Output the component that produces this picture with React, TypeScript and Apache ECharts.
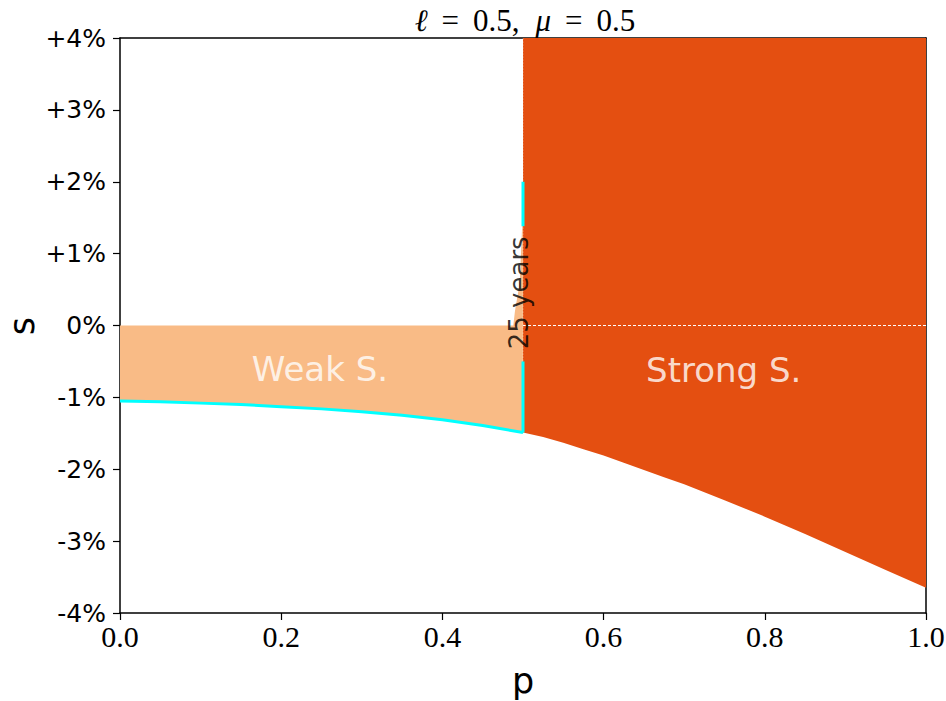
import React, { useEffect, useRef } from "react";
import * as echarts from "echarts";

// Lower boundary of the weak-sustainability region (p, s in %)
const weakP = [0, 0.05, 0.1, 0.15, 0.2, 0.25, 0.3, 0.35, 0.4, 0.45, 0.5];
const weakS = [-1.05, -1.06, -1.08, -1.1, -1.13, -1.16, -1.2, -1.25, -1.31, -1.39, -1.49];
// Small sliver of weak region above 0 near p = 0.5
const wedgeP = [0.488, 0.49, 0.496, 0.499, 0.5];
const wedgeS = [0, 0.2, 0.6, 1.4, 1.4];
// Lower boundary of the strong-sustainability region
const strongP = [0.5, 0.525, 0.55, 0.575, 0.6, 0.625, 0.65, 0.675, 0.7, 0.725, 0.75, 0.8, 0.85, 0.9, 0.95, 1.0];
const strongS = [-1.49, -1.55, -1.63, -1.72, -1.81, -1.91, -2.01, -2.11, -2.21, -2.32, -2.43, -2.66, -2.9, -3.15, -3.4, -3.65];
// Cyan vertical segments at p = 0.5
const cyanLowP = [0.5, 0.5];
const cyanLowS = [-1.49, -0.5];
const cyanUpP = [0.5, 0.5];
const cyanUpS = [1.38, 2.0];

const STRONG = "#E44F11";
const WEAK = "#F9BB86";
const CYAN = "#00FFFF";

const zip = (a: number[], b: number[]) => a.map((v, i) => [v, b[i]]);

function polySeries(pts: number[][], color: string, z: number) {
  return {
    type: "custom",
    data: pts,
    z,
    silent: true,
    encode: { x: 0, y: 1 },
    renderItem: (params: any, api: any) => {
      if (params.dataIndex !== 0) return null;
      const points = pts.map((p) => api.coord(p));
      return { type: "polygon", shape: { points }, style: { fill: color } };
    },
  };
}

export default function App() {
  const ref = useRef<HTMLDivElement>(null);
  useEffect(() => {
    if (!ref.current) return;
    const chart = echarts.init(ref.current, undefined, { renderer: "svg" });

    const weakBoundary = zip(weakP, weakS);
    const strongBoundary = zip(strongP, strongS);
    const weakPoly = [
      [0, 0],
      ...zip(wedgeP, wedgeS),
      ...weakBoundary.slice().reverse(),
    ];
    const strongPoly = [
      [0.5, 4],
      [1, 4],
      ...strongBoundary.slice().reverse(),
    ];

    const sans = "DejaVu Sans";
    const serif = "Liberation Serif";

    chart.setOption({
      animation: false,
      backgroundColor: "#fff",
      title: {
        text: "{i|ℓ}{e|=}0.5,{sp|}{i|μ}{e|=}0.5",
        left: 520,
        top: 0,
        textAlign: "center",
        textStyle: {
          fontFamily: serif,
          fontSize: 31,
          fontWeight: "normal",
          color: "#000",
          rich: {
            i: { fontFamily: serif, fontStyle: "italic", fontSize: 31, color: "#000" },
            e: { fontFamily: serif, fontSize: 31, color: "#000", padding: [0, 14, 0, 14] },
            sp: { width: 16 },
          },
        },
      },
      graphic: [
        {
          type: "text",
          x: 22,
          y: 326,
          rotation: Math.PI / 2,
          silent: true,
          style: {
            text: "s",
            fontFamily: sans,
            fontSize: 35,
            fill: "#000",
            align: "center",
            verticalAlign: "middle",
          },
        },
      ],
      grid: { left: 120, right: 20, top: 38, bottom: 88, containLabel: false, outerBoundsMode: "none" },
      xAxis: [
        {
          type: "value",
          min: 0,
          max: 1,
          interval: 0.2,
          name: "p",
          nameLocation: "middle",
          nameGap: 50,
          nameMoveOverlap: false,
          nameTextStyle: { fontFamily: sans, fontSize: 35, color: "#000" },
          axisLine: { onZero: false, lineStyle: { color: "#000", width: 1.5 } },
          axisTick: { length: 7, lineStyle: { color: "#000", width: 1.2 } },
          axisLabel: {
            fontFamily: serif,
            fontSize: 30,
            color: "#000",
            margin: 8,
            formatter: (v: number) => v.toFixed(1),
          },
          splitLine: { show: false },
        },
        {
          type: "value",
          position: "top",
          min: 0,
          max: 1,
          axisLine: { show: true, onZero: false, lineStyle: { color: "#000", width: 1.5 } },
          axisTick: { show: false },
          axisLabel: { show: false },
          splitLine: { show: false },
        },
      ],
      yAxis: [
        {
          type: "value",
          min: -4,
          max: 4,
          interval: 1,
          axisLine: { show: true, onZero: false, lineStyle: { color: "#000", width: 1.5 } },
          axisTick: { show: true, length: 7, lineStyle: { color: "#000", width: 1.2 } },
          axisLabel: {
            fontFamily: sans,
            fontSize: 25,
            color: "#000",
            margin: 14,
            formatter: (v: number) =>
              v > 0 ? "+" + v + "%" : v < 0 ? "-" + Math.abs(v) + "%" : "0%",
          },
          splitLine: { show: false },
        },
        {
          type: "value",
          position: "right",
          min: -4,
          max: 4,
          axisLine: { show: true, onZero: false, lineStyle: { color: "#000", width: 1.5 } },
          axisTick: { show: false },
          axisLabel: { show: false },
          splitLine: { show: false },
        },
      ],
      series: [
        polySeries(strongPoly, STRONG, 1),
        polySeries(weakPoly, WEAK, 1),
        {
          type: "line",
          data: [[0.5, -1.49], [0.5, 4]],
          symbol: "none",
          z: 2,
          lineStyle: { color: "rgba(255,255,255,0.55)", width: 1, type: [1, 2] },
          silent: true,
        },
        {
          type: "line",
          data: [[0.5, 0], [1, 0]],
          symbol: "none",
          z: 2,
          lineStyle: { color: "#fff", width: 1, type: [3, 2] },
          silent: true,
        },
        {
          type: "line",
          data: weakBoundary,
          symbol: "none",
          z: 3,
          lineStyle: { color: CYAN, width: 3 },
          silent: true,
        },
        {
          type: "line",
          data: zip(cyanLowP, cyanLowS),
          symbol: "none",
          z: 3,
          lineStyle: { color: CYAN, width: 3 },
          silent: true,
        },
        {
          type: "line",
          data: zip(cyanUpP, cyanUpS),
          symbol: "none",
          z: 3,
          lineStyle: { color: CYAN, width: 3 },
          silent: true,
        },
        {
          type: "scatter",
          symbolSize: 0,
          z: 5,
          silent: true,
          data: [
            {
              value: [0.248, -0.61],
              label: {
                show: true,
                position: "inside",
                formatter: "Weak S.",
                fontFamily: sans,
                fontSize: 34,
                color: "#fff",
              },
            },
            {
              value: [0.749, -0.62],
              label: {
                show: true,
                position: "inside",
                formatter: "Strong S.",
                fontFamily: sans,
                fontSize: 34,
                color: "#fff",
              },
            },
            {
              value: [0.495, 0.455],
              label: {
                show: true,
                position: "inside",
                formatter: "25 years",
                rotate: 90,
                fontFamily: sans,
                fontSize: 26,
                color: "#000",
              },
            },
          ],
        },
      ],
    });
    return () => chart.dispose();
  }, []);
  return <div ref={ref} style={{ width: 946, height: 701, position: "absolute", left: 0, top: 0 }} />;
}
